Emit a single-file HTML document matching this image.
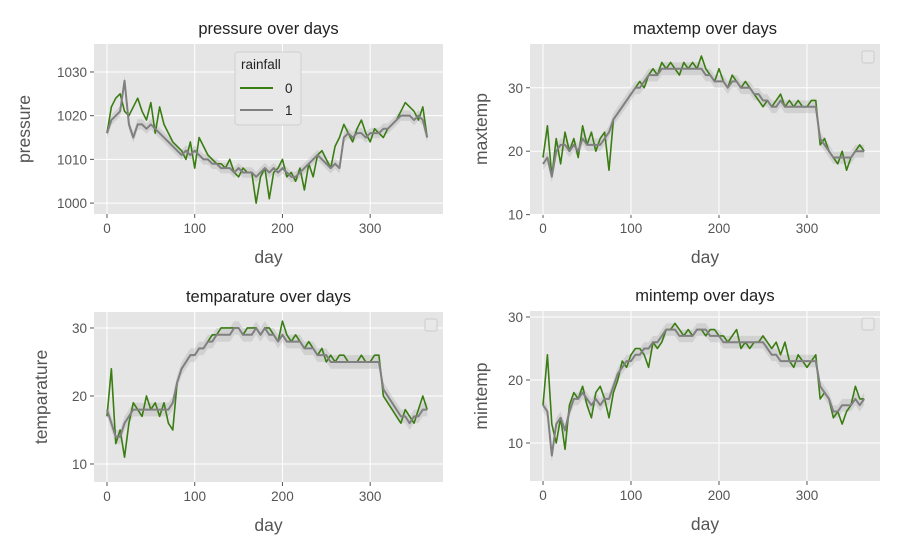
<!DOCTYPE html>
<html><head><meta charset="utf-8"><style>
body{margin:0;background:#fff;}
svg{display:block;font-family:"Liberation Sans","DejaVu Sans",sans-serif;}
</style></head><body>
<svg id="fig" width="905" height="551" viewBox="0 0 905 551"></svg>
<script>
const pressure0=[1016,1022,1024,1025,1021,1020,1022,1024,1021,1019,1023,1016,1022,1018,1016,1014,1013,1012,1010,1014,1008,1015,1013,1011,1010,1009,1009,1008,1010,1007,1006,1008,1007,1007,1000,1006,1008,1001,1007,1008,1010,1006,1007,1005,1008,1003,1009,1006,1011,1012,1010,1008,1013,1015,1018,1016,1014,1017,1019,1016,1014,1017,1016,1015,1017,1018,1019,1021,1023,1022,1021,1019,1022,1015];
const pressure1=[1016,1019,1020,1021,1028,1018,1015,1018,1018,1017,1018,1017,1016,1015,1014,1013,1012,1011,1012,1011,1012,1011,1010,1010,1009,1009,1008,1008,1008,1007,1008,1007,1007,1007,1006,1007,1008,1007,1008,1007,1008,1007,1006,1006,1007,1008,1009,1010,1011,1010,1009,1008,1009,1008,1015,1016,1015,1016,1016,1015,1016,1016,1016,1017,1017,1018,1019,1020,1020,1020,1019,1020,1019,1015];
const maxtemp0=[19,24,16,22,18,23,20,22,19,24,21,23,20,22,23,17,25,26,27,28,29,30,31,30,32,33,32,34,33,34,33,32,34,33,34,33,35,33,32,31,33,31,30,32,31,30,31,30,29,28,27,28,27,28,29,27,28,27,28,27,27,28,28,21,22,20,19,18,20,17,19,20,21,20];
const maxtemp1=[18,19,16,20,21,21,20,21,20,22,21,21,21,21,22,23,25,26,27,28,29,30,30,31,32,32,32,33,33,33,33,33,33,33,33,33,33,32,32,31,31,31,30,31,31,30,30,30,29,29,28,28,27,27,28,27,27,27,27,27,27,27,27,22,21,20,19,19,19,19,19,20,20,20];
const temp0=[17,24,13,15,11,16,19,18,17,20,18,19,17,19,16,15,22,24,25,26,26,27,27,28,29,29,30,30,30,30,30,29,30,30,30,29,30,30,29,28,31,29,28,29,28,27,28,27,26,27,25,26,25,26,26,25,25,25,26,25,25,26,26,20,19,18,17,16,18,17,16,18,20,18];
const temp1=[18,16,14,14,16,17,18,18,18,18,18,18,18,18,18,19,22,24,25,26,26,27,27,28,28,29,29,29,29,30,30,29,29,29,30,29,30,29,29,28,29,28,28,28,28,27,27,27,26,26,26,25,25,25,25,25,25,25,25,25,25,25,25,21,20,19,18,17,17,16,17,17,18,18];
const mintemp0=[16,24,13,10,14,9,16,18,17,19,16,14,18,19,17,14,18,20,23,22,24,25,25,24,22,26,25,26,28,28,29,28,27,28,27,28,28,27,28,28,27,27,26,27,28,25,26,25,26,26,27,26,25,26,24,26,23,22,24,23,22,23,24,17,18,17,14,15,13,15,16,19,17,17];
const mintemp1=[16,15,8,13,14,12,15,17,17,18,17,16,17,16,17,17,19,21,22,23,23,24,24,25,25,26,26,27,28,28,28,27,27,27,27,28,28,28,27,27,27,26,26,26,26,26,26,26,26,26,26,25,24,24,23,23,23,23,23,23,23,23,23,19,18,17,15,15,16,16,16,17,16,17];
const xTicks=[0,100,200,300];
const dayStep=5;

const NS="http://www.w3.org/2000/svg";
const fig=document.getElementById('fig');
function mk(tag,attrs,parent){const e=document.createElementNS(NS,tag);for(const k in attrs)e.setAttribute(k,attrs[k]);(parent||fig).appendChild(e);return e;}

function panel(o){
  const g=mk('g',{});
  
  
  const L=o.box[0],T=o.box[1],R=o.box[2],B=o.box[3];
  const xs=d=>L+(d-(-14.8))/(383-(-14.8))*(R-L);
  const ys=v=>B-(v-o.ymin)/(o.ymax-o.ymin)*(B-T);
  const bg=mk('rect',{x:L,y:T,width:R-L,height:B-T,fill:'#e5e5e5'},g);
  
  
  xTicks.forEach(t=>{
    const x=xs(t);
    mk('line',{x1:x,x2:x,y1:T,y2:B,stroke:'#fff','stroke-width':1},g);
    mk('line',{x1:x,x2:x,y1:B,y2:B+4,stroke:'#555'},g);
    const tx=mk('text',{x:x,y:B+19,'text-anchor':'middle','font-size':13.5,fill:'#555'},g);
    tx.textContent=t;
    
    
  });
  o.yTicks.forEach(t=>{
    const y=ys(t);
    mk('line',{x1:L,x2:R,y1:y,y2:y,stroke:'#fff','stroke-width':1},g);
    mk('line',{x1:L-4,x2:L,y1:y,y2:y,stroke:'#555'},g);
    const tx=mk('text',{x:L-7,y:y+5,'text-anchor':'end','font-size':13.5,fill:'#555'},g);
    tx.textContent=t;
    
    
  });
  const s1=o.s1;
  let up=s1.map((v,i)=>xs(i*dayStep)+','+ys(v+o.band)).join(' ');
  let dn=s1.map((v,i)=>xs(i*dayStep)+','+ys(v-o.band)).reverse().join(' ');
  const band=mk('polygon',{points:up+' '+dn,fill:'#999','fill-opacity':0.25},g);
  
  
  const l0=mk('polyline',{points:o.s0.map((v,i)=>xs(i*dayStep)+','+ys(v)).join(' '),fill:'none',stroke:'#3a7d12','stroke-width':1.6,'stroke-linejoin':'round'},g);
  
  
  const l1=mk('polyline',{points:s1.map((v,i)=>xs(i*dayStep)+','+ys(v)).join(' '),fill:'none',stroke:'#808080','stroke-width':2,'stroke-linejoin':'round'},g);
  
  
  const ti=mk('text',{x:(L+R)/2,y:T-10,'text-anchor':'middle','font-size':16.5,fill:'#222'},g);
  ti.textContent=o.title;
  
  
  const xl=mk('text',{x:(L+R)/2,y:B+49,'text-anchor':'middle','font-size':17.5,fill:'#555'},g);
  xl.textContent='day';
  
  
  const yc=(T+B)/2;
  const yl=mk('text',{x:o.ylx,y:yc,'text-anchor':'middle','font-size':17.5,fill:'#555',transform:'rotate(-90 '+o.ylx+' '+yc+')'},g);
  yl.textContent=o.ylabel;
  
  
  if(o.emptyLegend){
    const lg=mk('rect',{x:R-18,y:T+7,width:12,height:12,rx:2,fill:'#e8e8e8',stroke:'#ccc'},g);
    
    
  }
  return g;
}

panel({name:'pressure',box:[94,44,443,214],ymin:997.5,ymax:1036.4,yTicks:[1000,1010,1020,1030],s0:pressure0,s1:pressure1,band:1.2,title:'pressure over days',ylabel:'pressure',ylx:30});
panel({name:'maxtemp',box:[530,44,880,214],ymin:10.1,ymax:36.9,yTicks:[10,20,30],s0:maxtemp0,s1:maxtemp1,band:1.0,title:'maxtemp over days',ylabel:'maxtemp',ylx:487,emptyLegend:true});
panel({name:'temparature',box:[94,312,443,482],ymin:7.35,ymax:32.35,yTicks:[10,20,30],s0:temp0,s1:temp1,band:1.0,title:'temparature over days',ylabel:'temparature',ylx:47,emptyLegend:true});
panel({name:'mintemp',box:[530,311,880,481],ymin:3.97,ymax:30.95,yTicks:[10,20,30],s0:mintemp0,s1:mintemp1,band:1.0,title:'mintemp over days',ylabel:'mintemp',ylx:487,emptyLegend:true});

const lg=mk('g',{});


mk('rect',{x:235,y:52,width:66,height:73,rx:3,fill:'#e8e8e8',stroke:'#d0d0d0'},lg);
const lt=mk('text',{x:241,y:69,'font-size':13.5,fill:'#222'},lg);lt.textContent='rainfall';


[['0','#3a7d12',88],['1','#808080',110]].forEach(e=>{
  const it=mk('g',{},lg);
  
  
  mk('line',{x1:240,x2:273,y1:e[2],y2:e[2],stroke:e[1],'stroke-width':2},it);
  const t=mk('text',{x:285,y:e[2]+5,'font-size':13.5,fill:'#222'},it);t.textContent=e[0];
});
</script>
</body></html>
